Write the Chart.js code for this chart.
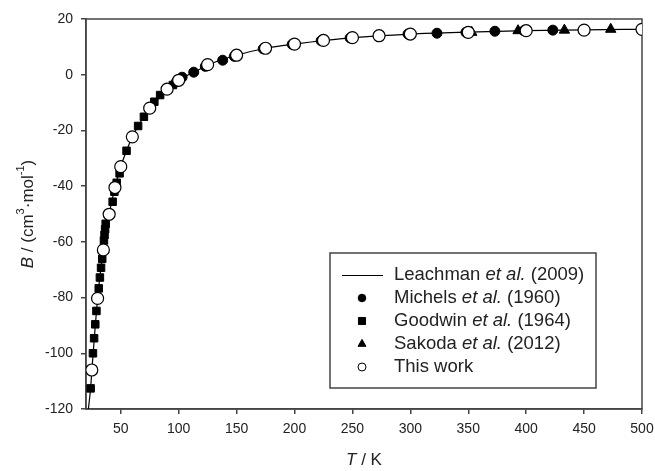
<!DOCTYPE html>
<html>
<head>
<meta charset="utf-8">
<script src="https://cdn.jsdelivr.net/npm/chart.js@4.4.1/dist/chart.umd.min.js"></script>
<style>
  body { margin: 0; background: #fff; }
  #wrap { width: 655px; height: 471px; }
</style>
</head>
<body>
<div id="wrap"><canvas id="chart" width="655" height="471"></canvas></div>
<script>
// Leachman et al. (2009) curve
const lineT = [21.5, 23, 24, 25, 27, 30, 33, 36, 40, 45, 50, 55, 60, 70, 80, 90, 100, 115, 130, 150, 175, 200, 250, 300, 350, 400, 450, 500];
const lineB = [-122, -116.5, -112.5, -106.5, -95.5, -80.5, -69, -59.5, -50, -40.5, -33, -27.3, -22.3, -15, -9.7, -5.3, -2, 1.3, 4.3, 7, 9.5, 11, 13.3, 14.6, 15.3, 15.8, 16.1, 16.3];

// Michels et al. (1960)
const michelsT = [98, 103, 113, 123, 138, 148, 173, 198, 223, 248, 273, 298, 323, 348, 373, 398, 423];
const michelsB = [-2.6, -0.9, 0.9, 3.0, 5.2, 6.6, 9.3, 10.9, 12.2, 13.2, 14.0, 14.6, 14.9, 15.2, 15.6, 15.8, 16.0];

// Goodwin et al. (1964)
const goodwinT = [24, 26, 27, 28, 29, 31, 32, 33, 34, 35.5, 36, 36.5, 37, 43, 44.5, 46.5, 49, 55, 65, 70, 79, 84, 95];
const goodwinB = [-112.6, -100, -94.6, -89.6, -84.8, -76.7, -72.8, -69.3, -66.1, -59.5, -57.5, -55.5, -53.5, -45.6, -42, -38.8, -35.4, -27.3, -18.4, -15.1, -9.7, -7.3, -3.7];

// Sakoda et al. (2012)
const sakodaT = [353, 393, 433, 473];
const sakodaB = [15.2, 15.8, 16.0, 16.3];

// This work
const workT = [25, 30, 35, 40, 45, 50, 60, 75, 90, 100, 125, 150, 175, 200, 225, 250, 273, 300, 350, 400, 450, 500];
const workB = [-106, -80.3, -62.9, -50.1, -40.5, -33, -22.3, -12, -5.2, -2, 3.6, 7, 9.5, 11, 12.3, 13.3, 14, 14.6, 15.2, 15.8, 16, 16.3];

const xTicks = [50, 100, 150, 200, 250, 300, 350, 400, 450, 500];
const yTicks = [-120, -100, -80, -60, -40, -20, 0, 20];

const legendNames = [
  ['Leachman ', 'et al.', ' (2009)'],
  ['Michels ', 'et al.', ' (1960)'],
  ['Goodwin ', 'et al.', ' (1964)'],
  ['Sakoda ', 'et al.', ' (2012)'],
  ['This work', '', '']
];

const FONT = '"Liberation Sans", Arial, sans-serif';
const INK = '#222';
const AXIS = '#444';

const pts = (t, b) => t.map((v, i) => ({ x: v, y: b[i] }));

function drawParts(ctx, parts, x, y) {
  // parts: [text, fontString, dy]
  parts.forEach(p => {
    ctx.font = p[1];
    ctx.fillText(p[0], x, y + (p[2] || 0));
    x += ctx.measureText(p[0]).width;
  });
  return x;
}
function partsWidth(ctx, parts) {
  let w = 0;
  parts.forEach(p => { ctx.font = p[1]; w += ctx.measureText(p[0]).width; });
  return w;
}

const extras = {
  id: 'extras',
  beforeDatasetsDraw(chart) {
    const { ctx, chartArea: a } = chart;
    ctx.save();
    ctx.strokeStyle = AXIS;
    ctx.lineWidth = 1.5;
    ctx.strokeRect(a.left, a.top, a.right - a.left, a.bottom - a.top);
    ctx.restore();
  },
  afterDraw(chart) {
    const { ctx, chartArea: a } = chart;
    ctx.save();
    ctx.fillStyle = INK;
    ctx.textBaseline = 'middle';

    // x title
    const xt = [['T', 'italic 17px ' + FONT], [' / K', '17px ' + FONT]];
    drawParts(ctx, xt, (a.left + a.right) / 2 - partsWidth(ctx, xt) / 2, 460);

    // y title
    const yt = [
      ['B', 'italic 17px ' + FONT], [' / (cm', '17px ' + FONT], ['3', '11px ' + FONT, -7],
      ['\u00B7mol', '17px ' + FONT], ['-1', '11px ' + FONT, -7], [')', '17px ' + FONT]
    ];
    ctx.translate(28, (a.top + a.bottom) / 2);
    ctx.rotate(-Math.PI / 2);
    drawParts(ctx, yt, -partsWidth(ctx, yt) / 2, 0);
    ctx.restore();

    // legend box
    ctx.save();
    ctx.fillStyle = '#fff';
    ctx.fillRect(330, 253, 266, 135);
    ctx.strokeStyle = AXIS;
    ctx.lineWidth = 1.5;
    ctx.strokeRect(330, 253, 266, 135);
    const sizes = [0, 3.8, 5, 4.6, 4];
    chart.data.datasets.forEach((ds, i) => {
      const y = 275 + i * 23;
      ctx.strokeStyle = '#000';
      ctx.fillStyle = ds.pointBackgroundColor || '#000';
      if (i === 0) {
        ctx.lineWidth = 1;
        ctx.beginPath();
        ctx.moveTo(342, y + 0.5);
        ctx.lineTo(383, y + 0.5);
        ctx.stroke();
      } else {
        ctx.lineWidth = 1;
        Chart.helpers.drawPoint(ctx, { pointStyle: ds.pointStyle, radius: sizes[i], borderWidth: 1, rotation: 0 }, 362, y);
      }
      ctx.fillStyle = INK;
      ctx.textBaseline = 'middle';
      const n = legendNames[i];
      drawParts(ctx, [[n[0], '18.5px ' + FONT], [n[1], 'italic 18.5px ' + FONT], [n[2], '18.5px ' + FONT]], 394, y);
    });
    ctx.restore();
  }
};

const tickFont = { family: FONT, size: 14 };

new Chart(document.getElementById('chart'), {
  type: 'scatter',
  data: {
    datasets: [
      {
        label: 'Leachman et al. (2009)',
        data: pts(lineT, lineB),
        showLine: true,
        borderColor: '#000',
        borderWidth: 1.2,
        pointRadius: 0,
        cubicInterpolationMode: 'monotone',
        order: 5
      },
      {
        label: 'Michels et al. (1960)',
        data: pts(michelsT, michelsB),
        pointStyle: 'circle',
        pointRadius: 5,
        pointBackgroundColor: '#000',
        pointBorderColor: '#000',
        pointBorderWidth: 1,
        order: 4
      },
      {
        label: 'Goodwin et al. (1964)',
        data: pts(goodwinT, goodwinB),
        pointStyle: 'rect',
        pointRadius: 5.3,
        pointBackgroundColor: '#000',
        pointBorderColor: '#000',
        pointBorderWidth: 1,
        order: 3
      },
      {
        label: 'Sakoda et al. (2012)',
        data: pts(sakodaT, sakodaB),
        pointStyle: 'triangle',
        pointRadius: 6,
        pointBackgroundColor: '#000',
        pointBorderColor: '#000',
        pointBorderWidth: 1,
        order: 2
      },
      {
        label: 'This work',
        data: pts(workT, workB),
        pointStyle: 'circle',
        pointRadius: 6,
        pointBackgroundColor: '#fff',
        pointBorderColor: '#000',
        pointBorderWidth: 1.2,
        order: 1
      }
    ]
  },
  options: {
    responsive: false,
    animation: false,
    devicePixelRatio: 1,
    layout: { padding: { top: 19, right: 13, left: 0, bottom: 0 } },
    plugins: {
      legend: { display: false },
      tooltip: { enabled: false }
    },
    scales: {
      x: {
        type: 'linear',
        min: 20,
        max: 500,
        afterBuildTicks: s => { s.ticks = xTicks.map(v => ({ value: v })); },
        afterFit: s => { s.height = 62; s.paddingRight = 0; s.paddingLeft = 0; },
        grid: { drawOnChartArea: false, drawTicks: true, tickLength: 5, color: AXIS, lineWidth: 1.5 },
        border: { display: true, color: AXIS, width: 1.5 },
        ticks: { font: tickFont, color: INK, padding: 7, maxRotation: 0, autoSkip: false }
      },
      y: {
        min: -120,
        max: 20,
        afterBuildTicks: s => { s.ticks = yTicks.map(v => ({ value: v })); },
        afterFit: s => { s.width = 86; s.paddingTop = 0; s.paddingBottom = 0; },
        grid: { drawOnChartArea: false, drawTicks: true, tickLength: 5, color: AXIS, lineWidth: 1.5 },
        border: { display: true, color: AXIS, width: 1.5 },
        ticks: { font: tickFont, color: INK, padding: 8 }
      }
    }
  },
  plugins: [extras]
});
</script>
</body>
</html>
